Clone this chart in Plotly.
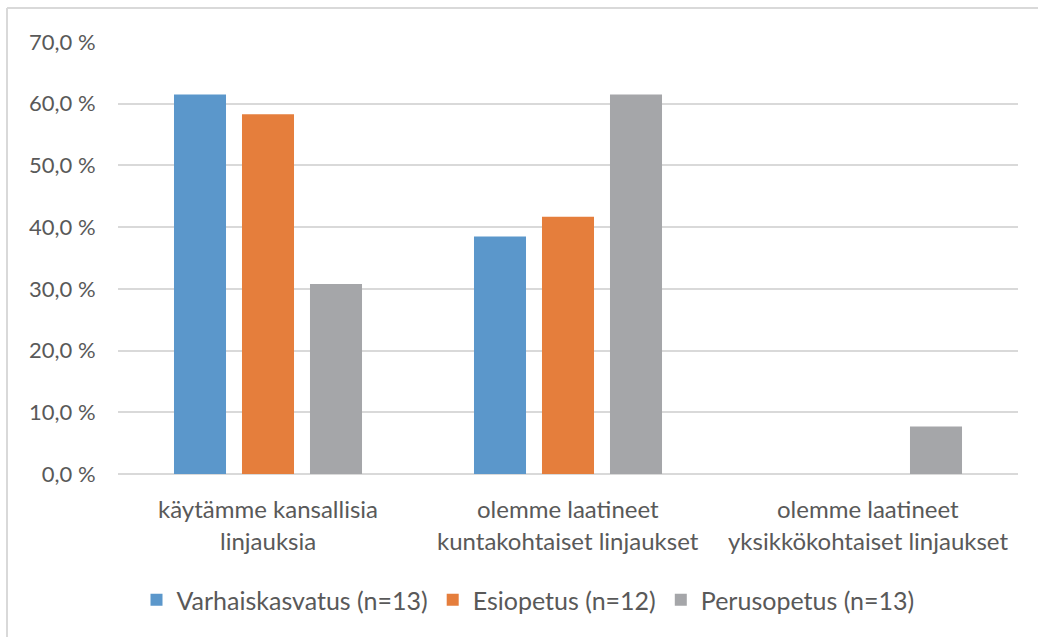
import plotly.graph_objects as go

# Category labels (two lines each)
categories = [
    ["käytämme kansallisia", "linjauksia"],
    ["olemme laatineet", "kuntakohtaiset linjaukset"],
    ["olemme laatineet", "yksikkökohtaiset linjaukset"],
]
series_names = ["Varhaiskasvatus (n=13)", "Esiopetus (n=12)", "Perusopetus (n=13)"]
varhaiskasvatus = [61.5, 38.5, 0.0]
esiopetus = [58.3, 41.7, 0.0]
perusopetus = [30.8, 61.5, 7.7]
tick_values = [0, 10, 20, 30, 40, 50, 60, 70]
tick_labels = ["0,0 %", "10,0 %", "20,0 %", "30,0 %", "40,0 %", "50,0 %", "60,0 %", "70,0 %"]

colors = ["#5B97CB", "#E57E3C", "#A5A6A9"]
text_color = "#595959"
grid_color = "#D9D9D9"
font_family = "Lato, 'Open Sans', sans-serif"

W, H = 1038, 637
ML, MR, MT, MB = 118, 20, 42, 163
plot_w = W - ML - MR
plot_h = H - MT - MB


def px_to_paper_x(px):
    return (px - ML) / plot_w


def px_to_paper_y(py):
    return (H - MB - py) / plot_h


x_keys = [" ".join(c) for c in categories]

fig = go.Figure()
for name, vals, col in zip(series_names, [varhaiskasvatus, esiopetus, perusopetus], colors):
    fig.add_trace(go.Bar(
        x=x_keys, y=vals, name=name,
        marker=dict(color=col, line=dict(width=0)),
        hoverinfo="skip",
    ))

# Two-line category labels under each group
annotations = []
for key, lines in zip(x_keys, categories):
    for i, line in enumerate(lines):
        annotations.append(dict(
            x=key, xref="x", y=px_to_paper_y(508 + 32 * i), yref="paper",
            text=line, showarrow=False, xanchor="center", yanchor="middle",
            font=dict(family=font_family, size=24, color=text_color),
        ))

# Outer frame lines (top and left)
shapes = [
    dict(type="line", xref="paper", yref="paper",
         x0=px_to_paper_x(7), x1=px_to_paper_x(W + 5),
         y0=px_to_paper_y(8), y1=px_to_paper_y(8),
         line=dict(color=grid_color, width=2)),
    dict(type="line", xref="paper", yref="paper",
         x0=px_to_paper_x(7), x1=px_to_paper_x(7),
         y0=px_to_paper_y(8), y1=px_to_paper_y(H + 5),
         line=dict(color=grid_color, width=2)),
]

fig.update_layout(
    width=W, height=H,
    margin=dict(l=ML, r=MR, t=MT, b=MB, pad=0),
    paper_bgcolor="white", plot_bgcolor="white",
    barmode="group", bargap=0.32, bargroupgap=0.235,
    font=dict(family=font_family, size=22, color=text_color),
    showlegend=True,
    legend=dict(
        orientation="h", x=px_to_paper_x(528), xanchor="center",
        y=px_to_paper_y(600), yanchor="middle",
        font=dict(family=font_family, size=25, color=text_color),
        itemclick=False, itemdoubleclick=False, traceorder="normal",
    ),
    annotations=annotations,
    shapes=shapes,
)
fig.update_xaxes(showticklabels=False, showgrid=False, zeroline=False, showline=False, ticks="")
fig.update_yaxes(
    range=[0, 70], tickvals=tick_values, ticktext=tick_labels,
    showgrid=True, gridcolor=grid_color, gridwidth=1.5,
    zeroline=True, zerolinecolor=grid_color, zerolinewidth=1.5,
    showline=False, ticks="outside", ticklen=17, tickcolor="rgba(0,0,0,0)",
    tickfont=dict(family=font_family, size=22, color=text_color),
)

fig.write_html("out.html")
